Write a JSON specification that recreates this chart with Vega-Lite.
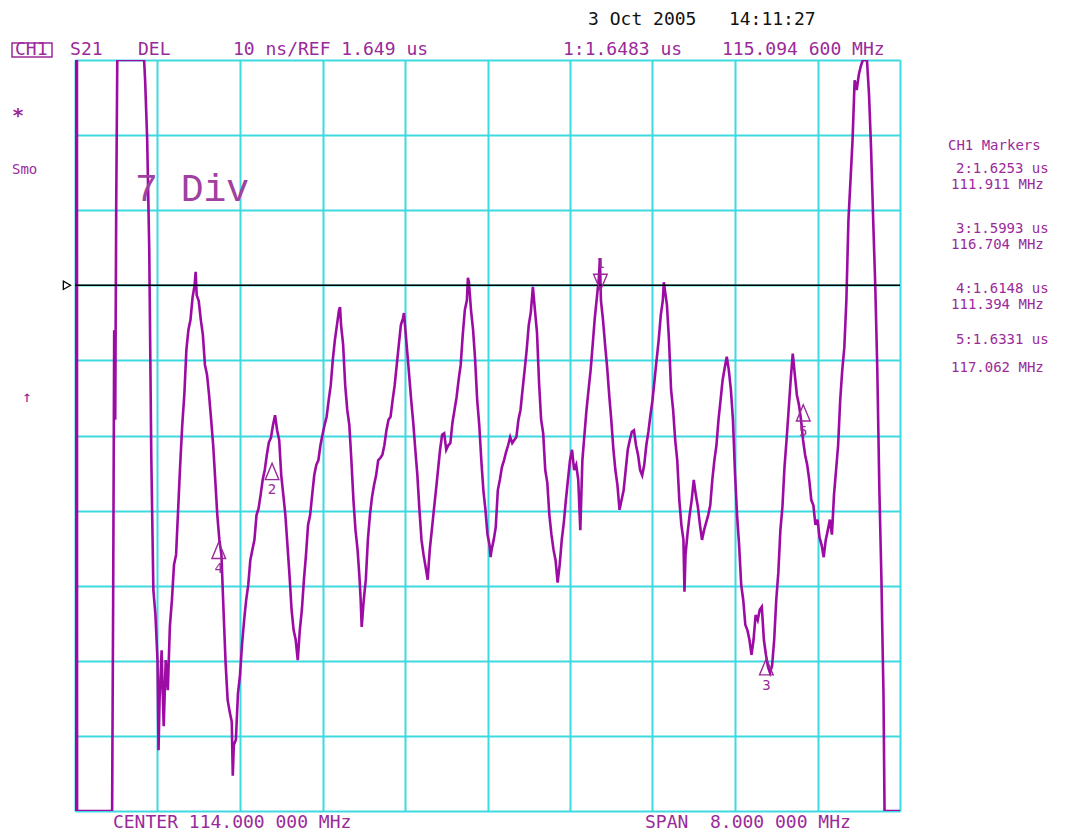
{
  "$schema": "https://vega.github.io/schema/vega-lite/v6.json",
  "width": 825,
  "height": 751,
  "autosize": {"type": "none"},
  "padding": {"left": 75, "top": 60, "right": 174, "bottom": 22},
  "background": "white",
  "config": {
    "view": {"stroke": null},
    "text": {"font": "DejaVu Sans Mono"},
    "axis": {"grid": true, "gridColor": "#3fd9e0", "gridWidth": 2, "gridOpacity": 1, "labels": false, "ticks": false, "domain": false, "title": null}
  },
  "datasets": {
    "trace": [
      {"freq":110.000,"delay":1679},{"freq":110.001,"delay":1579},{"freq":110.018,"delay":1579},{"freq":110.019,"delay":1679},{"freq":110.020,"delay":1579},
      {"freq":110.36,"delay":1579},{"freq":110.37,"delay":1607.1},{"freq":110.38,"delay":1643.0},{"freq":110.39,"delay":1631.1},{"freq":110.40,"delay":1660.4},{"freq":110.41,"delay":1679},{"freq":110.67,"delay":1679},
      {"freq":110.68,"delay":1676.3},{"freq":110.70,"delay":1668.4},{"freq":110.72,"delay":1653.7},{"freq":110.74,"delay":1626.0},{"freq":110.76,"delay":1608.4},{"freq":110.78,"delay":1605.1},{"freq":110.80,"delay":1599.1},{"freq":110.81,"delay":1587.1},{"freq":110.82,"delay":1593.8},{"freq":110.84,"delay":1600.4},{"freq":110.86,"delay":1590.3},{"freq":110.88,"delay":1599.1},{"freq":110.90,"delay":1595.1},{"freq":110.92,"delay":1603.6},{"freq":110.94,"delay":1607.1},{"freq":110.96,"delay":1611.8},{"freq":110.98,"delay":1613.1},
      {"freq":111.00,"delay":1619.1},{"freq":111.02,"delay":1625.1},{"freq":111.04,"delay":1630.4},{"freq":111.06,"delay":1634.4},{"freq":111.08,"delay":1640.4},{"freq":111.10,"delay":1643.1},{"freq":111.12,"delay":1644.4},{"freq":111.14,"delay":1647.4},{"freq":111.16,"delay":1649.0},{"freq":111.17,"delay":1650.8},{"freq":111.18,"delay":1647.7},{"freq":111.20,"delay":1646.9},{"freq":111.22,"delay":1644.4},{"freq":111.24,"delay":1642.4},{"freq":111.26,"delay":1638.4},{"freq":111.28,"delay":1637.1},{"freq":111.30,"delay":1634.4},{"freq":111.32,"delay":1631.1},{"freq":111.34,"delay":1627.7},{"freq":111.36,"delay":1623.1},{"freq":111.38,"delay":1618.4},{"freq":111.40,"delay":1615.1},{"freq":111.42,"delay":1613.1},{"freq":111.44,"delay":1605.8},{"freq":111.46,"delay":1598.8},{"freq":111.48,"delay":1593.8},{"freq":111.50,"delay":1592.2},{"freq":111.52,"delay":1590.9},{"freq":111.53,"delay":1583.7},{"freq":111.54,"delay":1587.8},{"freq":111.56,"delay":1588.5},{"freq":111.58,"delay":1594.6},{"freq":111.60,"delay":1597.1},{"freq":111.62,"delay":1601.2},{"freq":111.64,"delay":1604.4},{"freq":111.66,"delay":1607.1},{"freq":111.68,"delay":1609.1},{"freq":111.70,"delay":1612.4},{"freq":111.72,"delay":1613.8},{"freq":111.74,"delay":1615.1},{"freq":111.76,"delay":1618.4},{"freq":111.78,"delay":1619.3},{"freq":111.80,"delay":1621.1},{"freq":111.82,"delay":1623.1},{"freq":111.84,"delay":1624.4},{"freq":111.86,"delay":1626.4},{"freq":111.88,"delay":1628.1},{"freq":111.90,"delay":1628.7},{"freq":111.92,"delay":1630.4},{"freq":111.94,"delay":1631.7},{"freq":111.96,"delay":1629.7},{"freq":111.98,"delay":1628.4},
      {"freq":112.00,"delay":1623.7},{"freq":112.02,"delay":1621.1},{"freq":112.04,"delay":1618.4},{"freq":112.06,"delay":1614.4},{"freq":112.08,"delay":1610.4},{"freq":112.10,"delay":1605.8},{"freq":112.12,"delay":1603.1},{"freq":112.14,"delay":1601.8},{"freq":112.16,"delay":1599.1},{"freq":112.18,"delay":1603.1},{"freq":112.20,"delay":1605.8},{"freq":112.22,"delay":1609.8},{"freq":112.24,"delay":1613.1},{"freq":112.26,"delay":1617.1},{"freq":112.28,"delay":1618.4},{"freq":112.30,"delay":1621.1},{"freq":112.32,"delay":1623.7},{"freq":112.34,"delay":1625.1},{"freq":112.36,"delay":1625.7},{"freq":112.38,"delay":1627.7},{"freq":112.40,"delay":1629.1},{"freq":112.42,"delay":1630.4},{"freq":112.44,"delay":1631.5},{"freq":112.46,"delay":1633.7},{"freq":112.48,"delay":1635.7},{"freq":112.50,"delay":1639.1},{"freq":112.52,"delay":1641.7},{"freq":112.54,"delay":1643.7},{"freq":112.56,"delay":1645.7},{"freq":112.57,"delay":1646.1},{"freq":112.58,"delay":1643.7},{"freq":112.60,"delay":1641.1},{"freq":112.62,"delay":1635.7},{"freq":112.64,"delay":1632.4},{"freq":112.66,"delay":1630.4},{"freq":112.68,"delay":1625.7},{"freq":112.70,"delay":1620.4},{"freq":112.72,"delay":1616.4},{"freq":112.74,"delay":1613.8},{"freq":112.76,"delay":1609.8},{"freq":112.77,"delay":1607.1},{"freq":112.78,"delay":1603.5},{"freq":112.80,"delay":1607.1},{"freq":112.82,"delay":1609.8},{"freq":112.84,"delay":1615.1},{"freq":112.86,"delay":1618.4},{"freq":112.88,"delay":1620.8},{"freq":112.90,"delay":1622.4},{"freq":112.92,"delay":1623.7},{"freq":112.94,"delay":1625.7},{"freq":112.96,"delay":1626.0},{"freq":112.98,"delay":1626.4},
      {"freq":113.00,"delay":1627.7},{"freq":113.02,"delay":1629.7},{"freq":113.04,"delay":1631.1},{"freq":113.06,"delay":1631.5},{"freq":113.08,"delay":1633.7},{"freq":113.10,"delay":1635.7},{"freq":113.12,"delay":1638.4},{"freq":113.14,"delay":1641.1},{"freq":113.16,"delay":1643.7},{"freq":113.18,"delay":1644.6},{"freq":113.19,"delay":1645.3},{"freq":113.20,"delay":1643.7},{"freq":113.22,"delay":1640.4},{"freq":113.24,"delay":1637.1},{"freq":113.26,"delay":1633.7},{"freq":113.28,"delay":1630.7},{"freq":113.30,"delay":1627.1},{"freq":113.32,"delay":1623.7},{"freq":113.34,"delay":1619.1},{"freq":113.36,"delay":1615.1},{"freq":113.38,"delay":1613.1},{"freq":113.40,"delay":1611.5},{"freq":113.42,"delay":1609.8},{"freq":113.44,"delay":1613.8},{"freq":113.46,"delay":1616.4},{"freq":113.48,"delay":1619.1},{"freq":113.50,"delay":1621.7},{"freq":113.52,"delay":1624.4},{"freq":113.54,"delay":1627.1},{"freq":113.56,"delay":1629.1},{"freq":113.58,"delay":1629.3},{"freq":113.60,"delay":1627.1},{"freq":113.62,"delay":1627.7},{"freq":113.64,"delay":1628.0},{"freq":113.66,"delay":1630.7},{"freq":113.68,"delay":1632.4},{"freq":113.70,"delay":1634.1},{"freq":113.72,"delay":1636.4},{"freq":113.74,"delay":1638.4},{"freq":113.76,"delay":1642.4},{"freq":113.78,"delay":1645.7},{"freq":113.80,"delay":1647.0},{"freq":113.81,"delay":1650.0},{"freq":113.82,"delay":1649.4},{"freq":113.84,"delay":1645.7},{"freq":113.86,"delay":1643.1},{"freq":113.88,"delay":1639.1},{"freq":113.90,"delay":1633.7},{"freq":113.92,"delay":1630.4},{"freq":113.94,"delay":1625.7},{"freq":113.96,"delay":1621.7},{"freq":113.98,"delay":1619.1},
      {"freq":114.00,"delay":1615.8},{"freq":114.02,"delay":1614.4},{"freq":114.03,"delay":1612.8},{"freq":114.04,"delay":1613.8},{"freq":114.06,"delay":1615.1},{"freq":114.08,"delay":1616.8},{"freq":114.10,"delay":1621.7},{"freq":114.12,"delay":1623.1},{"freq":114.14,"delay":1624.8},{"freq":114.16,"delay":1625.7},{"freq":114.18,"delay":1626.8},{"freq":114.20,"delay":1627.7},{"freq":114.22,"delay":1628.8},{"freq":114.24,"delay":1628.0},{"freq":114.26,"delay":1628.4},{"freq":114.28,"delay":1628.8},{"freq":114.30,"delay":1631.1},{"freq":114.32,"delay":1632.4},{"freq":114.34,"delay":1635.1},{"freq":114.36,"delay":1637.7},{"freq":114.38,"delay":1640.4},{"freq":114.40,"delay":1643.7},{"freq":114.42,"delay":1645.4},{"freq":114.44,"delay":1648.8},{"freq":114.46,"delay":1645.7},{"freq":114.48,"delay":1642.7},{"freq":114.50,"delay":1636.0},{"freq":114.52,"delay":1631.1},{"freq":114.54,"delay":1629.3},{"freq":114.56,"delay":1624.4},{"freq":114.58,"delay":1622.7},{"freq":114.60,"delay":1618.4},{"freq":114.62,"delay":1615.8},{"freq":114.64,"delay":1613.8},{"freq":114.66,"delay":1612.4},{"freq":114.68,"delay":1609.4},{"freq":114.70,"delay":1611.8},{"freq":114.72,"delay":1615.1},{"freq":114.74,"delay":1617.4},{"freq":114.76,"delay":1620.4},{"freq":114.78,"delay":1623.1},{"freq":114.80,"delay":1625.7},{"freq":114.82,"delay":1627.1},{"freq":114.84,"delay":1624.4},{"freq":114.86,"delay":1625.1},{"freq":114.88,"delay":1623.1},{"freq":114.90,"delay":1616.4},{"freq":114.92,"delay":1625.7},{"freq":114.94,"delay":1629.1},{"freq":114.96,"delay":1632.4},{"freq":114.98,"delay":1635.1},
      {"freq":115.00,"delay":1637.7},{"freq":115.02,"delay":1641.1},{"freq":115.04,"delay":1644.6},{"freq":115.06,"delay":1647.3},{"freq":115.08,"delay":1650.0},{"freq":115.09,"delay":1652.6},{"freq":115.10,"delay":1647.0},{"freq":115.12,"delay":1644.4},{"freq":115.14,"delay":1641.1},{"freq":115.16,"delay":1638.1},{"freq":115.18,"delay":1634.4},{"freq":115.20,"delay":1631.1},{"freq":115.22,"delay":1627.3},{"freq":115.24,"delay":1624.4},{"freq":115.26,"delay":1622.4},{"freq":115.28,"delay":1619.1},{"freq":115.30,"delay":1620.4},{"freq":115.32,"delay":1621.7},{"freq":115.34,"delay":1624.4},{"freq":115.36,"delay":1627.1},{"freq":115.38,"delay":1628.4},{"freq":115.40,"delay":1629.5},{"freq":115.42,"delay":1629.7},{"freq":115.44,"delay":1627.7},{"freq":115.46,"delay":1626.4},{"freq":115.48,"delay":1624.4},{"freq":115.50,"delay":1623.7},{"freq":115.52,"delay":1625.1},{"freq":115.54,"delay":1627.7},{"freq":115.56,"delay":1629.5},{"freq":115.58,"delay":1631.7},{"freq":115.60,"delay":1633.7},{"freq":115.62,"delay":1636.4},{"freq":115.64,"delay":1639.1},{"freq":115.66,"delay":1641.7},{"freq":115.68,"delay":1645.0},{"freq":115.70,"delay":1647.0},{"freq":115.71,"delay":1649.4},{"freq":115.72,"delay":1648.4},{"freq":115.74,"delay":1646.4},{"freq":115.76,"delay":1641.7},{"freq":115.78,"delay":1635.1},{"freq":115.80,"delay":1632.4},{"freq":115.82,"delay":1628.4},{"freq":115.84,"delay":1625.7},{"freq":115.86,"delay":1620.4},{"freq":115.88,"delay":1617.1},{"freq":115.90,"delay":1615.1},{"freq":115.91,"delay":1608.2},{"freq":115.92,"delay":1613.1},{"freq":115.94,"delay":1616.0},{"freq":115.96,"delay":1618.4},{"freq":115.98,"delay":1620.4},
      {"freq":116.00,"delay":1623.1},{"freq":116.02,"delay":1621.1},{"freq":116.04,"delay":1619.5},{"freq":116.06,"delay":1617.1},{"freq":116.08,"delay":1615.1},{"freq":116.10,"delay":1616.4},{"freq":116.12,"delay":1617.4},{"freq":116.14,"delay":1618.4},{"freq":116.16,"delay":1619.7},{"freq":116.18,"delay":1623.1},{"freq":116.20,"delay":1625.7},{"freq":116.22,"delay":1627.7},{"freq":116.24,"delay":1631.1},{"freq":116.26,"delay":1633.7},{"freq":116.28,"delay":1636.4},{"freq":116.30,"delay":1638.0},{"freq":116.32,"delay":1639.5},{"freq":116.34,"delay":1637.7},{"freq":116.36,"delay":1635.1},{"freq":116.38,"delay":1631.1},{"freq":116.40,"delay":1624.0},{"freq":116.42,"delay":1618.4},{"freq":116.44,"delay":1614.4},{"freq":116.46,"delay":1609.1},{"freq":116.48,"delay":1607.1},{"freq":116.50,"delay":1603.8},{"freq":116.52,"delay":1603.1},{"freq":116.54,"delay":1601.8},{"freq":116.56,"delay":1599.8},{"freq":116.58,"delay":1601.8},{"freq":116.60,"delay":1605.1},{"freq":116.62,"delay":1604.4},{"freq":116.64,"delay":1605.8},{"freq":116.66,"delay":1606.2},{"freq":116.68,"delay":1601.8},{"freq":116.70,"delay":1599.8},{"freq":116.72,"delay":1598.2},{"freq":116.74,"delay":1597.4},{"freq":116.76,"delay":1598.4},{"freq":116.78,"delay":1601.8},{"freq":116.80,"delay":1607.1},{"freq":116.82,"delay":1610.7},{"freq":116.84,"delay":1616.4},{"freq":116.86,"delay":1619.5},{"freq":116.88,"delay":1624.8},{"freq":116.90,"delay":1628.4},{"freq":116.92,"delay":1632.4},{"freq":116.94,"delay":1636.4},{"freq":116.96,"delay":1639.9},{"freq":116.98,"delay":1637.1},
      {"freq":117.00,"delay":1634.4},{"freq":117.02,"delay":1633.1},{"freq":117.04,"delay":1631.1},{"freq":117.06,"delay":1628.4},{"freq":117.08,"delay":1626.4},{"freq":117.10,"delay":1625.1},{"freq":117.12,"delay":1623.1},{"freq":117.14,"delay":1620.4},{"freq":117.16,"delay":1619.7},{"freq":117.18,"delay":1617.1},{"freq":117.20,"delay":1617.8},{"freq":117.22,"delay":1615.4},{"freq":117.24,"delay":1614.4},{"freq":117.26,"delay":1612.8},{"freq":117.28,"delay":1615.1},{"freq":117.30,"delay":1616.4},{"freq":117.32,"delay":1617.8},{"freq":117.34,"delay":1615.8},{"freq":117.36,"delay":1621.1},{"freq":117.38,"delay":1624.4},{"freq":117.40,"delay":1627.7},{"freq":117.42,"delay":1633.7},{"freq":117.44,"delay":1637.7},{"freq":117.46,"delay":1640.7},{"freq":117.48,"delay":1647.0},{"freq":117.50,"delay":1657.7},{"freq":117.52,"delay":1663.0},{"freq":117.54,"delay":1668.4},{"freq":117.56,"delay":1676.3},{"freq":117.58,"delay":1675.0},{"freq":117.60,"delay":1677.0},{"freq":117.62,"delay":1678.2},{"freq":117.64,"delay":1679},{"freq":117.66,"delay":1679},{"freq":117.68,"delay":1678.9},{"freq":117.70,"delay":1674.3},{"freq":117.72,"delay":1667.0},{"freq":117.74,"delay":1657.7},{"freq":117.76,"delay":1649.0},{"freq":117.78,"delay":1637.7},{"freq":117.80,"delay":1621.7},{"freq":117.82,"delay":1609.8},{"freq":117.83,"delay":1601.8},{"freq":117.84,"delay":1594.4},{"freq":117.85,"delay":1579},{"freq":118.00,"delay":1579}
    ],
    "markers": [
      {"label":"1","freq":115.0946,"delay":1648.3},
      {"label":"2","freq":111.911,"delay":1625.3},
      {"label":"3","freq":116.704,"delay":1599.3},
      {"label":"4","freq":111.394,"delay":1614.8},
      {"label":"5","freq":117.062,"delay":1633.1}
    ],
    "header": [
      {"freq":109.418,"delay":1680.33,"text":"CH1"},
      {"freq":109.952,"delay":1680.33,"text":"S21"},
      {"freq":110.611,"delay":1680.33,"text":"DEL"},
      {"freq":111.532,"delay":1680.33,"text":"10 ns/REF 1.649 us"},
      {"freq":114.732,"delay":1680.33,"text":"1:1.6483 us"},
      {"freq":116.274,"delay":1680.33,"text":"115.094 600 MHz"},
      {"freq":110.368,"delay":1577.4,"text":"CENTER 114.000 000 MHz"},
      {"freq":115.527,"delay":1577.4,"text":"SPAN\u00a0\u00a08.000 000 MHz"}
    ],
    "side": [
      {"freq":118.465,"delay":1667.55,"text":"CH1 Markers"},
      {"freq":118.543,"delay":1664.49,"text":"2:1.6253 us"},
      {"freq":118.495,"delay":1662.36,"text":"111.911 MHz"},
      {"freq":118.543,"delay":1656.50,"text":"3:1.5993 us"},
      {"freq":118.495,"delay":1654.37,"text":"116.704 MHz"},
      {"freq":118.543,"delay":1648.51,"text":"4:1.6148 us"},
      {"freq":118.495,"delay":1646.38,"text":"111.394 MHz"},
      {"freq":118.543,"delay":1641.72,"text":"5:1.6331 us"},
      {"freq":118.495,"delay":1637.99,"text":"117.062 MHz"},
      {"freq":109.389,"delay":1664.35,"text":"Smo"}
    ]
  },
  "encoding": {
    "x": {"field": "freq", "type": "quantitative", "scale": {"domain": [110, 118], "nice": false, "zero": false},
          "axis": {"values": [110, 110.8, 111.6, 112.4, 113.2, 114, 114.8, 115.6, 116.4, 117.2, 118]}},
    "y": {"field": "delay", "type": "quantitative", "scale": {"domain": [1579, 1679], "nice": false, "zero": false},
          "axis": {"values": [1579, 1589, 1599, 1609, 1619, 1629, 1639, 1649, 1659, 1669, 1679]}}
  },
  "layer": [
    {
      "data": {"name": "trace"},
      "mark": {"type": "line", "color": "#9c0ca4", "strokeWidth": 2.6, "clip": true}
    },
    {
      "data": {"values": [{"freq": 110, "freq2": 118, "delay": 1649}]},
      "mark": {"type": "rule", "color": "#000000", "strokeWidth": 1.5},
      "encoding": {"x2": {"field": "freq2"}}
    },
    {
      "data": {"values": [{"freq": 109.922, "delay": 1649}]},
      "mark": {"type": "point", "shape": "triangle-right", "size": 70, "filled": false, "stroke": "#000000", "strokeWidth": 1.3, "opacity": 1}
    },
    {
      "data": {"name": "markers"},
      "transform": [{"filter": "datum.label != '1'"}],
      "mark": {"type": "point", "shape": "M0,0L-0.75,1.8L0.75,1.8Z", "size": 330, "filled": false, "stroke": "#9a2a9a", "strokeWidth": 1.4, "opacity": 1}
    },
    {
      "data": {"name": "markers"},
      "transform": [{"filter": "datum.label != '1'"}],
      "mark": {"type": "text", "fontSize": 14, "color": "#9a2a9a", "baseline": "middle", "align": "center", "dy": 27},
      "encoding": {"text": {"field": "label"}}
    },
    {
      "data": {"name": "markers"},
      "transform": [{"filter": "datum.label == '1'"}],
      "mark": {"type": "point", "shape": "M0,0L-0.75,-1.8L0.75,-1.8Z", "size": 330, "filled": false, "stroke": "#9a2a9a", "strokeWidth": 1.4, "opacity": 1}
    },
    {
      "data": {"name": "markers"},
      "transform": [{"filter": "datum.label == '1'"}],
      "mark": {"type": "text", "fontSize": 14, "color": "#9a2a9a", "baseline": "middle", "align": "center", "dy": -27},
      "encoding": {"text": {"field": "label"}}
    },
    {
      "data": {"values": [{"freq": 109.389, "freq2": 109.777, "delay": 1681.26, "delay2": 1679.4}]},
      "mark": {"type": "rect", "fill": null, "fillOpacity": 0, "stroke": "#9a2a9a", "strokeWidth": 1.5},
      "encoding": {"x2": {"field": "freq2"}, "y2": {"field": "delay2"}}
    },
    {
      "data": {"name": "header"},
      "mark": {"type": "text", "fontSize": 18, "color": "#9a2a9a", "baseline": "middle", "align": "left"},
      "encoding": {"text": {"field": "text"}}
    },
    {
      "data": {"name": "side"},
      "mark": {"type": "text", "fontSize": 14, "color": "#9a2a9a", "baseline": "middle", "align": "left"},
      "encoding": {"text": {"field": "text"}}
    },
    {
      "data": {"values": [{"freq": 114.975, "delay": 1684.33, "text": "3 Oct 2005\u00a0\u00a0\u00a014:11:27"}]},
      "mark": {"type": "text", "fontSize": 18, "color": "#111111", "baseline": "middle", "align": "left"},
      "encoding": {"text": {"field": "text"}}
    },
    {
      "data": {"values": [{"freq": 109.389, "delay": 1671.6, "text": "*"}]},
      "mark": {"type": "text", "fontSize": 20, "fontWeight": "bold", "color": "#9a2a9a", "baseline": "middle", "align": "left"},
      "encoding": {"text": {"field": "text"}}
    },
    {
      "data": {"values": [{"freq": 109.535, "delay": 1634.13, "text": "↑"}]},
      "mark": {"type": "text", "fontSize": 16, "color": "#9a2a9a", "baseline": "middle", "align": "center"},
      "encoding": {"text": {"field": "text"}}
    },
    {
      "data": {"values": [{"freq": 110.582, "delay": 1661.69, "text": "7 Div"}]},
      "mark": {"type": "text", "font": "Liberation Mono", "fontSize": 38, "fontWeight": "normal", "color": "#a040a0", "baseline": "middle", "align": "left"},
      "encoding": {"text": {"field": "text"}}
    }
  ]
}
